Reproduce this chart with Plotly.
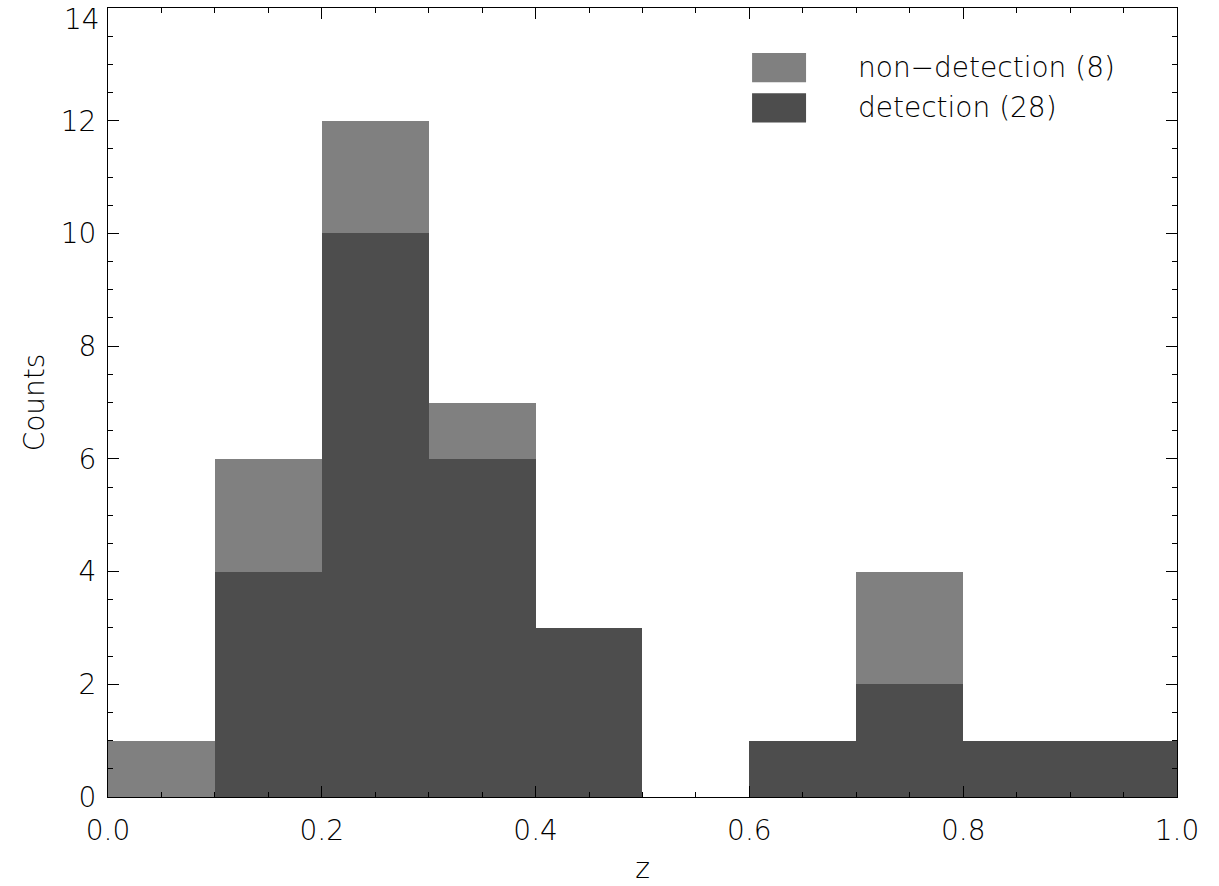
import plotly.graph_objects as go

# Redshift histogram: bin edges and counts per bin (bin width 0.1)
bin_left = [0.0, 0.1, 0.2, 0.3, 0.4, 0.5, 0.6, 0.7, 0.8, 0.9]
bin_width = 0.1
detection = [0, 4, 10, 6, 3, 0, 1, 2, 1, 1]
non_detection = [1, 2, 2, 1, 0, 0, 0, 2, 0, 0]

x_ticks = [0.0, 0.2, 0.4, 0.6, 0.8, 1.0]
y_ticks = [0, 2, 4, 6, 8, 10, 12, 14]

dark = "#4d4d4d"
light = "#808080"
font_family = "DejaVu Sans"
text_color = "#000000"
fsize = 28

centers = [b + bin_width / 2 for b in bin_left]

fig = go.Figure()
fig.add_trace(go.Bar(x=centers, y=detection, width=bin_width,
                     marker=dict(color=dark, line=dict(width=0)),
                     name=f"detection ({sum(detection)})", showlegend=False))
fig.add_trace(go.Bar(x=centers, y=non_detection, width=bin_width,
                     marker=dict(color=light, line=dict(width=0)),
                     name=f"non-detection ({sum(non_detection)})", showlegend=False))

# Legend drawn as filled boxes with labels in the upper right
legend_items = [(light, f"non\u2212detection ({sum(non_detection)})", 0.0),
                (dark, f"detection ({sum(detection)})", 1.0)]
box_x0, box_x1 = 0.6025, 0.653
row_top, row_h, row_gap = 0.943, 0.037, 0.051
for color, label, i in legend_items:
    y1 = row_top - i * row_gap
    y0 = y1 - row_h
    fig.add_shape(type="rect", xref="paper", yref="paper",
                  x0=box_x0, x1=box_x1, y0=y0, y1=y1,
                  fillcolor=color, line=dict(width=0))
    fig.add_annotation(xref="paper", yref="paper", x=0.700, y=(y0 + y1) / 2,
                       text=label, showarrow=False, xanchor="left", yanchor="middle",
                       font=dict(family=font_family, size=fsize, color=text_color, weight=200))

axis_common = dict(showline=True, linecolor="black", linewidth=1, mirror="allticks",
                   ticks="inside", ticklen=11, tickcolor="black", tickwidth=1,
                   showgrid=False, zeroline=False,
                   tickfont=dict(family=font_family, size=fsize, color=text_color, weight=200))

# the topmost y label sits just below its tick so it stays inside the page
y_top = y_ticks[-1]
fig.add_annotation(xref="paper", yref="y", x=0, y=y_top, xshift=-6, yshift=-11,
                   text=str(y_top), showarrow=False, xanchor="right", yanchor="middle",
                   font=dict(family=font_family, size=fsize, color=text_color, weight=200))

fig.update_xaxes(range=[0, 1.00001], tickvals=x_ticks,
                 ticktext=[f"{v:.1f}" for v in x_ticks],
                 minor=dict(dtick=0.05, tick0=0, ticks="inside", ticklen=5,
                            tickcolor="black", showgrid=False),
                 title=dict(text="z", standoff=12,
                            font=dict(family=font_family, size=fsize, color=text_color, weight=200)),
                 ticklabelstandoff=8,
                 **axis_common)
fig.update_yaxes(range=[0, 14.0001], tickvals=y_ticks,
                 ticktext=[str(v) if v != y_top else "" for v in y_ticks],
                 minor=dict(dtick=0.5, tick0=0, ticks="inside", ticklen=5,
                            tickcolor="black", showgrid=False),
                 title=dict(text="Counts", standoff=7,
                            font=dict(family=font_family, size=fsize, color=text_color, weight=200)),
                 ticklabelstandoff=5,
                 **axis_common)

fig.update_layout(width=1219, height=886, barmode="stack", bargap=0,
                  plot_bgcolor="white", paper_bgcolor="white",
                  margin=dict(l=108, r=42, t=8, b=89))

fig.write_html("out.html")
